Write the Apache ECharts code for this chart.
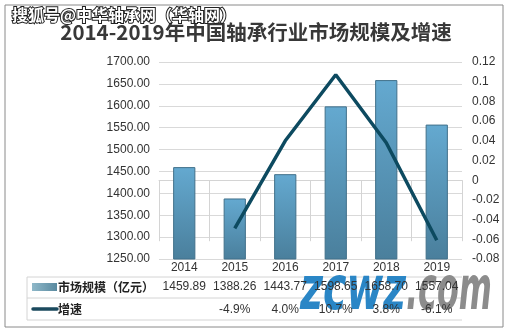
<!DOCTYPE html>
<html><head><meta charset="utf-8">
<script src="https://cdn.jsdelivr.net/npm/echarts@6/dist/echarts.min.js"></script>
<style>html,body{margin:0;padding:0;background:#fff}#c{width:512px;height:333px}</style>
</head><body><div id="c"></div>
<script>
const years = ['2014','2015','2016','2017','2018','2019'];
const marketSize = [1459.89, 1388.26, 1443.77, 1598.65, 1658.70, 1557.04];
const growth = [null, -0.049, 0.040, 0.107, 0.038, -0.061];
const leftAxis = {min:1250, max:1700, interval:50};
const rightAxis = {min:-0.08, max:0.12, interval:0.02};
const titleText = '2014-2019年中国轴承行业市场规模及增速';
const sizeName = '市场规模（亿元）';
const growthName = '增速';

const W=512,H=333, GL=159, GR=462, GT=62, GB=259;
const ROW1=277, ROW2=298, ROW3=320, TL=27;
const FF = '"Liberation Sans", "Noto Sans CJK SC", sans-serif';
const CJK = '"Noto Sans CJK SC", sans-serif';
const txt = '#333';
const lineC = '#d4d4d4';

const chart = echarts.init(document.getElementById('c'));
const lbl = {interval:0, fontSize:12, color:txt, fontFamily:FF};
chart.setOption({
  animation:false,
  backgroundColor:'#fff',
  grid:{left:GL, right:W-GR, top:GT, bottom:H-GB},
  xAxis:[
    {type:'category', data:years, position:'bottom',
     axisLine:{show:true, lineStyle:{color:lineC}},
     axisTick:{show:true, interval:0, length:ROW3-GB, lineStyle:{color:lineC}},
     axisLabel:Object.assign({margin:3}, lbl)},
    {type:'category', data:years, position:'bottom', offset:ROW1-GB,
     axisLine:{show:false}, axisTick:{show:false},
     axisLabel:Object.assign({margin:4, formatter:(v,i)=>marketSize[i].toFixed(2)}, lbl)},
    {type:'category', data:years, position:'bottom', offset:ROW2-GB+2,
     axisLine:{show:false}, axisTick:{show:false},
     axisLabel:Object.assign({margin:4, formatter:(v,i)=>growth[i]==null?'':(growth[i]*100).toFixed(1)+'%'}, lbl)}
  ],
  yAxis:[
    {type:'value', position:'left', min:leftAxis.min, max:leftAxis.max, interval:leftAxis.interval,
     axisLine:{show:false}, axisTick:{show:false},
     splitLine:{lineStyle:{color:'#d9d9d9'}},
     axisLabel:{margin:9, fontSize:12, color:txt, fontFamily:FF, formatter:v=>v.toFixed(2)}},
    {type:'value', position:'right', min:rightAxis.min, max:rightAxis.max, interval:rightAxis.interval,
     axisLine:{show:false}, axisTick:{show:false}, splitLine:{show:false},
     axisLabel:{margin:10, fontSize:12, color:txt, fontFamily:FF, formatter:v=>String(parseFloat(v.toFixed(2)))}}
  ],
  series:[
    {type:'bar', data:marketSize, barWidth:'44%',
     itemStyle:{color:new echarts.graphic.LinearGradient(0,0,0,1,[{offset:0,color:'#64a9d0'},{offset:1,color:'#4a7f9c'}]),
       borderColor:'#40708a', borderWidth:1}},
    {type:'line', yAxisIndex:1, data:growth, symbol:'none', showSymbol:false,
     lineStyle:{color:'#0d4a60', width:3.5}}
  ],
  graphic:[
    {type:'rect', shape:{x:5,y:5,width:498,height:322}, style:{fill:'none', stroke:'#8a8a8a', lineWidth:1}},
    {type:'text', x:256, y:32, style:{text:titleText, font:'bold 20.5px '+CJK, fill:'#383838', align:'center', verticalAlign:'middle'}},
    {type:'text', x:12, y:15, style:{text:'搜狐号@中华轴承网（华轴网）', font:'bold 16px '+CJK, fill:'#fff', stroke:'#222', lineWidth:2, align:'left', verticalAlign:'middle'}},
    {type:'line', shape:{x1:TL,y1:ROW1,x2:GR,y2:ROW1}, style:{stroke:lineC, lineWidth:1}},
    {type:'line', shape:{x1:TL,y1:ROW2,x2:GR,y2:ROW2}, style:{stroke:lineC, lineWidth:1}},
    {type:'line', shape:{x1:TL,y1:ROW3,x2:GR,y2:ROW3}, style:{stroke:lineC, lineWidth:1}},
    {type:'line', shape:{x1:TL,y1:ROW1,x2:TL,y2:ROW3}, style:{stroke:lineC, lineWidth:1}},
    {type:'rect', shape:{x:32,y:283,width:25,height:8}, style:{fill:new echarts.graphic.LinearGradient(0,0,1,0,[{offset:0,color:'#8fb8c9'},{offset:1,color:'#5a8aa0'}])}},
    {type:'line', shape:{x1:33,y1:309,x2:57,y2:309}, style:{stroke:'#1b4a5e', lineWidth:3.5, lineCap:'round'}},
    {type:'text', x:58, y:287, style:{text:sizeName, font:'bold 12px '+CJK, fill:'#222', verticalAlign:'middle'}},
    {type:'text', x:58, y:309, style:{text:growthName, font:'bold 12px '+CJK, fill:'#222', verticalAlign:'middle'}},
    {type:'text', x:300, y:323, scaleX:0.66, style:{text:'zcwz', font:'italic bold 60px "DejaVu Sans"', fill:'#2a86c6', verticalAlign:'bottom'}},
    {type:'text', x:406, y:323, scaleX:0.53, style:{text:'.com', font:'italic bold 60px "DejaVu Sans"', fill:'#8c8c8c', verticalAlign:'bottom'}}
  ]
});
</script></body></html>
